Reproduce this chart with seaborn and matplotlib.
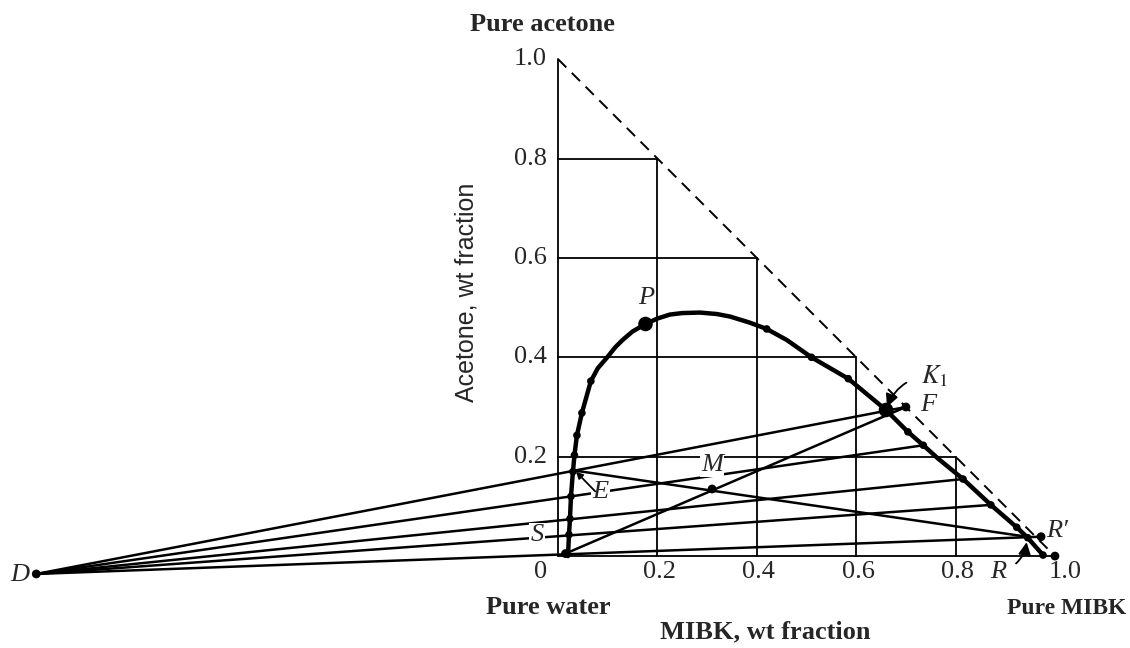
import pandas as pd
import seaborn as sns
import matplotlib.pyplot as plt

# solubility (binodal) curve: MIBK wt fraction vs acetone wt fraction
curve_x = [0.020, 0.022, 0.024, 0.026, 0.030, 0.033, 0.038, 0.048, 0.066, 0.080,
           0.099, 0.115, 0.130, 0.150, 0.176, 0.200, 0.225, 0.250, 0.286, 0.320,
           0.346, 0.385, 0.420, 0.460, 0.510, 0.584, 0.660, 0.704, 0.735, 0.765,
           0.815, 0.871, 0.923, 0.945, 0.976]
curve_y = [0.000, 0.043, 0.075, 0.120, 0.170, 0.203, 0.243, 0.288, 0.352, 0.378,
           0.400, 0.420, 0.435, 0.452, 0.467, 0.478, 0.486, 0.489, 0.490, 0.487,
           0.482, 0.470, 0.457, 0.435, 0.400, 0.357, 0.294, 0.250, 0.223, 0.196,
           0.155, 0.103, 0.058, 0.037, 0.002]

# equilibrium data points marked on the curve
dot_x = [0.022, 0.024, 0.026, 0.030, 0.033, 0.038, 0.048, 0.066, 0.420, 0.510,
         0.584, 0.704, 0.735, 0.815, 0.871, 0.923, 0.945, 0.976]
dot_y = [0.043, 0.075, 0.120, 0.170, 0.203, 0.243, 0.288, 0.352, 0.457, 0.400,
         0.357, 0.250, 0.223, 0.155, 0.103, 0.058, 0.037, 0.002]

# named construction points
pt_names = ["D", "F", "S", "M", "E", "R", "Rp", "K1", "P", "R1", "R2", "R3", "W", "B"]
pt_x = [-1.05, 0.70, 0.015, 0.31, 0.034, 0.943, 0.972, 0.660, 0.176, 0.735, 0.815, 0.871, 0.0, 1.0]
pt_y = [-0.036, 0.30, 0.005, 0.135, 0.172, 0.039, 0.039, 0.294, 0.467, 0.223, 0.155, 0.103, 0.0, 0.0]

# construction lines (operating lines through D, mixing lines through M)
line_from = ["D", "D", "D", "D", "D", "E", "S"]
line_to = ["F", "R1", "R2", "R3", "Rp", "R", "F"]

small_dots = ["D", "F", "S", "M", "Rp", "B"]
big_dots = ["P", "K1"]

grid_ticks = [0.2, 0.4, 0.6, 0.8]
tick_labels = ["0.2", "0.4", "0.6", "0.8"]

sns.set_style("white")
plt.rcParams["font.family"] = ["Liberation Serif", "DejaVu Serif"]
plt.rcParams["mathtext.fontset"] = "stix"

fig = plt.figure(figsize=(11.3, 6.48), dpi=100)
ax = fig.add_axes([0, 0, 1, 1])

pts = pd.DataFrame({"x": pt_x, "y": pt_y}, index=pt_names)

# triangle frame + partial grid
rows = []
seg = 0
frame = [((0, 0), (0, 1)), ((0, 0), (1, 0))]
for t in grid_ticks:
    frame.append(((t, 0), (t, 1 - t)))
    frame.append(((0, t), (1 - t, t)))
for (x0, y0), (x1, y1) in frame:
    rows += [(seg, x0, y0), (seg, x1, y1)]
    seg += 1
grid_df = pd.DataFrame(rows, columns=["seg", "x", "y"])
sns.lineplot(data=grid_df, x="x", y="y", units="seg", estimator=None, sort=False,
             color="black", lw=1.3, ax=ax)

# dashed hypotenuse (no water)
ax.plot([0, 1], [1, 0], color="black", lw=1.4, dashes=(6, 4))

# construction lines
rows = []
for i, (a, b) in enumerate(zip(line_from, line_to)):
    rows += [(i, pts.loc[a, "x"], pts.loc[a, "y"]), (i, pts.loc[b, "x"], pts.loc[b, "y"])]
lines_df = pd.DataFrame(rows, columns=["seg", "x", "y"])
sns.lineplot(data=lines_df, x="x", y="y", units="seg", estimator=None, sort=False,
             color="black", lw=1.8, ax=ax)

# solubility curve
curve_df = pd.DataFrame({"x": curve_x, "y": curve_y})
sns.lineplot(data=curve_df, x="x", y="y", sort=False, color="black", lw=3.2, ax=ax)
sns.scatterplot(x=dot_x, y=dot_y, color="black", s=30, edgecolor="none", ax=ax, zorder=5)
sns.scatterplot(data=pts.loc[small_dots], x="x", y="y", color="black", s=40,
                edgecolor="none", ax=ax, zorder=5)
sns.scatterplot(data=pts.loc[big_dots], x="x", y="y", color="black", s=110,
                edgecolor="none", ax=ax, zorder=5)

# tick labels
fs = 19
for t, lab in zip(grid_ticks, tick_labels):
    ax.text(t + 0.004, -0.033, lab, ha="center", va="center", fontsize=fs)
    ax.text(-0.022, t, lab, ha="right", va="center", fontsize=fs)
ax.text(-0.036, -0.033, "0", ha="center", va="center", fontsize=fs)
ax.text(1.02, -0.033, "1.0", ha="center", va="center", fontsize=fs)
ax.text(-0.022, 1.0, "1.0", ha="right", va="center", fontsize=fs)

ax.text(-0.032, 1.07, "Pure acetone", ha="center", va="center", fontsize=fs, fontweight="bold")
ax.text(-0.02, -0.103, "Pure water", ha="center", va="center", fontsize=fs, fontweight="bold")
ax.text(1.143, -0.105, "Pure MIBK", ha="right", va="center", fontsize=17, fontweight="bold")
ax.text(0.417, -0.153, "MIBK, wt fraction", ha="center", va="center", fontsize=fs,
        fontweight="bold")
ax.text(-0.185, 0.53, "Acetone, wt fraction", ha="center", va="center", rotation=90,
        fontsize=18, family=["Liberation Sans", "DejaVu Sans"])

# point labels
lab_kw = dict(fontsize=fs, style="italic", ha="center", va="center")
white = dict(facecolor="white", edgecolor="none", pad=1)
ax.text(-1.083, -0.038, "D", **lab_kw)
ax.text(0.177, 0.52, "P", **lab_kw)
ax.text(0.745, 0.305, "F", **lab_kw)
ax.text(0.31, 0.183, "M", bbox=white, **lab_kw)
ax.text(-0.042, 0.042, "S", bbox=white, **lab_kw)
ax.text(0.085, 0.128, "E", bbox=white, **lab_kw)
ax.text(1.004, 0.05, "R\u2032", **lab_kw)
ax.annotate("$K_1$", xy=(0.662, 0.30), xytext=(0.758, 0.362), fontsize=fs,
            ha="center", va="center",
            arrowprops=dict(arrowstyle="-|>", color="black", lw=1.3,
                            connectionstyle="arc3,rad=0.35", shrinkA=9, shrinkB=0))
ax.annotate("R", xy=(0.943, 0.028), xytext=(0.885, -0.032), fontsize=fs,
            style="italic", ha="center", va="center",
            arrowprops=dict(arrowstyle="-|>", color="black", lw=1.3,
                            connectionstyle="arc3,rad=0.35", shrinkA=6, shrinkB=0))
ax.annotate("", xy=(0.036, 0.17), xytext=(0.075, 0.13),
            arrowprops=dict(arrowstyle="-|>", color="black", lw=1.3, shrinkA=0, shrinkB=0))

ax.set_xlim(-1.123, 1.151)
ax.set_ylim(-0.185, 1.119)
ax.set_axis_off()

plt.savefig("out.png", dpi=100)
print("Saved: out.png")
